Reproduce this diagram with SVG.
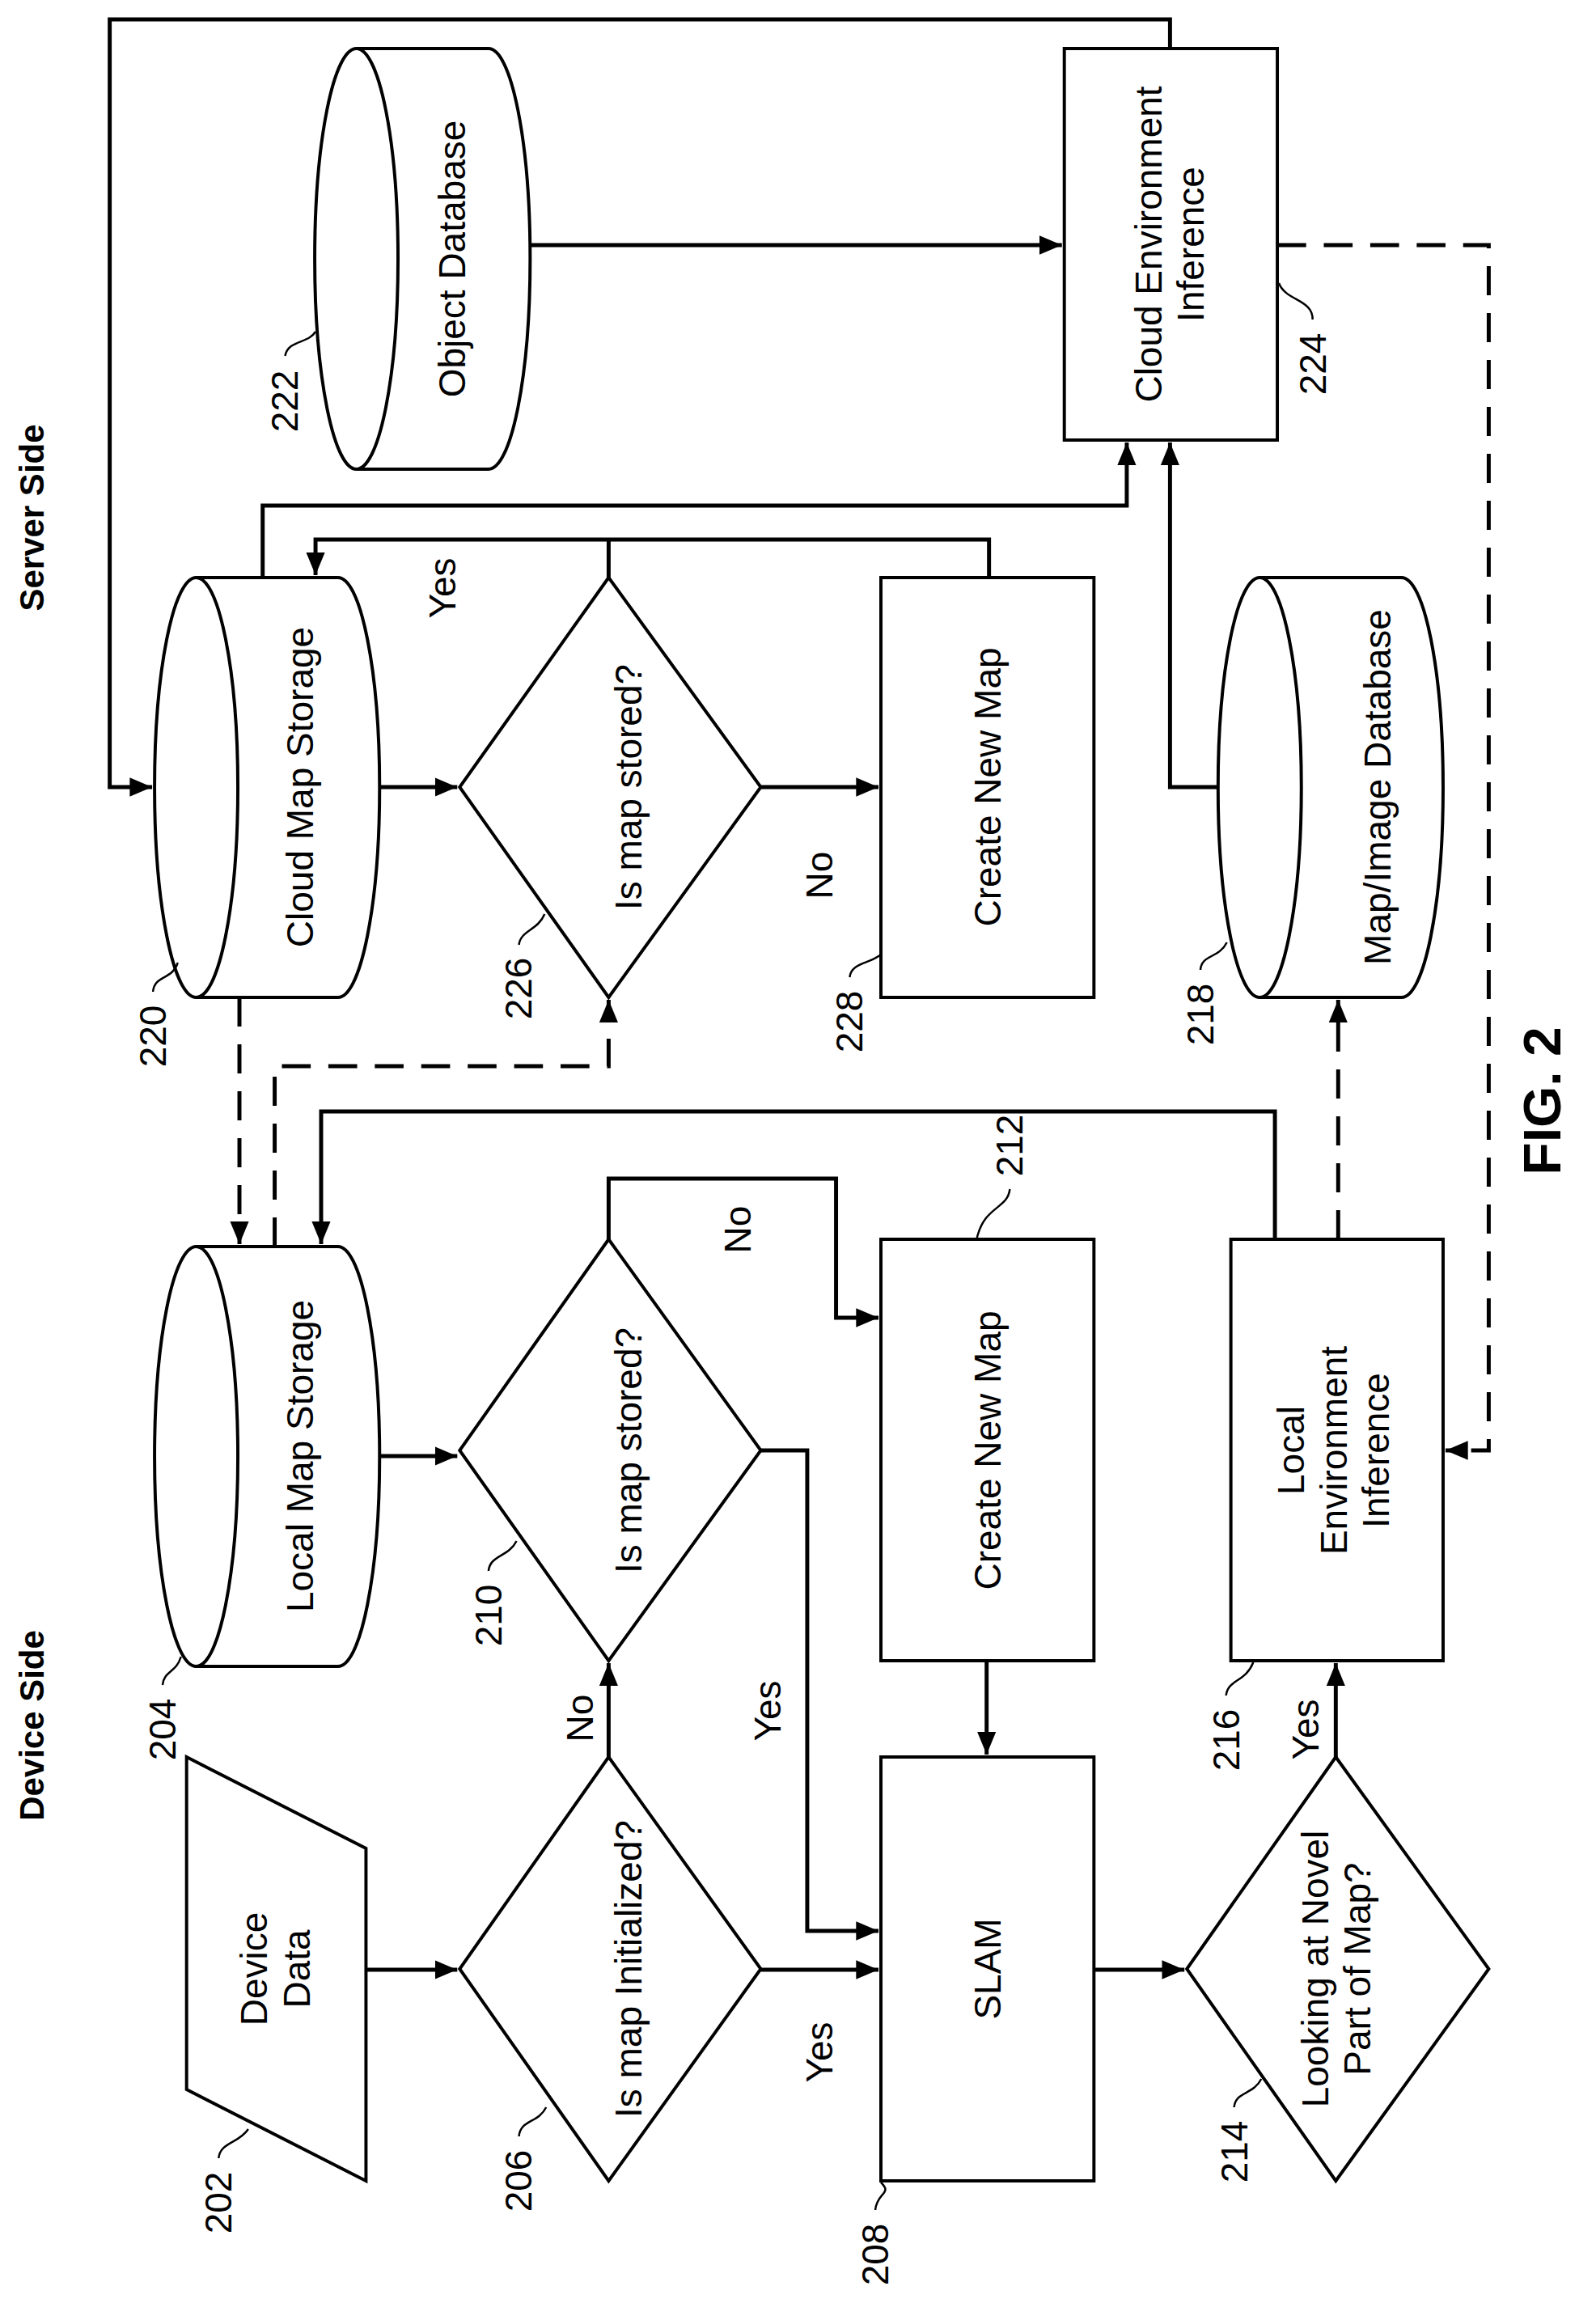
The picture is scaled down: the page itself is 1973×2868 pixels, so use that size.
<svg xmlns="http://www.w3.org/2000/svg" width="1973" height="2868" viewBox="0 0 1973 2868">
<style>
.s{fill:#fff;stroke:#000;stroke-width:4}
.c{fill:none;stroke:#000;stroke-width:5}
.d{fill:none;stroke:#000;stroke-width:5;stroke-dasharray:36 22}
.l{fill:none;stroke:#000;stroke-width:2.5}
text{font-family:"Liberation Sans",Arial,sans-serif;font-size:46px;text-anchor:middle;fill:#000}
.b{font-weight:bold;font-size:42px}
.f{font-weight:bold;font-size:66px}
</style>
<defs>
<marker id="m" viewBox="-12 -6 12 12" refX="0" refY="0" markerWidth="28" markerHeight="28" orient="auto" markerUnits="userSpaceOnUse"><path d="M-12,-5 L0,0 L-12,5 z" fill="#000"/></marker>
</defs>
<g transform="scale(0.99,1)">
<text class="b" transform="translate(40,640) rotate(-90)" dy="0.35em">Server Side</text>
<text class="b" transform="translate(40,2133) rotate(-90)" dy="0.35em">Device Side</text>
<text class="f" transform="translate(1925,1361) rotate(-90)" dy="0.35em">FIG. 2</text>
<g id="connectors">
<path class="c" d="M1461,60 V24 H137 V973 H190" marker-end="url(#m)"/>
<path class="c" d="M620,303 H1326" marker-end="url(#m)"/>
<path class="d" d="M1595,303 H1859 V1793 H1805" marker-end="url(#m)"/>
<path class="c" d="M474,973 H571" marker-end="url(#m)"/>
<path class="c" d="M950,973 H1097" marker-end="url(#m)"/>
<path class="c" d="M328,714 V625 H1407 V547" marker-end="url(#m)"/>
<path class="c" d="M1235,714 V667 H394 V711" marker-end="url(#m)"/>
<path class="c" d="M760,714 V667"/>
<path class="c" d="M1521,973 H1461 V547" marker-end="url(#m)"/>
<path class="d" d="M299,1233 V1538" marker-end="url(#m)"/>
<path class="d" d="M343,1541 V1318 H760 V1236" marker-end="url(#m)"/>
<path class="c" d="M1592,1532 V1374 H401 V1538" marker-end="url(#m)"/>
<path class="d" d="M1671,1532 V1236" marker-end="url(#m)"/>
<path class="c" d="M474,1800 H571" marker-end="url(#m)"/>
<path class="c" d="M760,1532 V1457 H1044 V1629 H1097" marker-end="url(#m)"/>
<path class="c" d="M950,1793 H1008 V2387 H1097" marker-end="url(#m)"/>
<path class="c" d="M1232,2053 V2169" marker-end="url(#m)"/>
<path class="c" d="M457,2435 H571" marker-end="url(#m)"/>
<path class="c" d="M760,2172 V2056" marker-end="url(#m)"/>
<path class="c" d="M950,2435 H1097" marker-end="url(#m)"/>
<path class="c" d="M1366,2435 H1479" marker-end="url(#m)"/>
<path class="c" d="M1668,2172 V2056" marker-end="url(#m)"/>
</g>
<g id="n222">
<path class="s" d="M445,60 H610 A52,260 0 0 1 610,580 H445"/>
<ellipse class="s" cx="445" cy="320" rx="52" ry="260"/>
<text transform="translate(565,320) rotate(-90)" dy="0.35em">Object Database</text>
<text transform="translate(356,496) rotate(-90)" dy="0.35em">222</text>
<path class="l" d="M356,440 C360,420 385,425 394,410"/>
</g>
<g id="n224">
<rect class="s" x="1329" y="60" width="266" height="484"/>
<text transform="translate(1462,302) rotate(-90)"><tspan x="0" dy="-0.25em">Cloud Environment</tspan><tspan x="0" dy="1.15em">Inference</tspan></text>
<text transform="translate(1639,450) rotate(-90)" dy="0.35em">224</text>
<path class="l" d="M1639,395 C1640,370 1605,372 1597,350"/>
</g>
<g id="n220">
<path class="s" d="M245,714 H422 A52,259.5 0 0 1 422,1233 H245"/>
<ellipse class="s" cx="245" cy="973.5" rx="52" ry="259.5"/>
<text transform="translate(375,973) rotate(-90)" dy="0.35em">Cloud Map Storage</text>
<text transform="translate(191,1281) rotate(-90)" dy="0.35em">220</text>
<path class="l" d="M191,1226 C193,1205 215,1212 222,1190"/>
</g>
<g id="n226">
<polygon class="s" points="760,714 950,973 760,1233 574,973"/>
<text transform="translate(785,973) rotate(-90)" dy="0.35em">Is map stored?</text>
<text transform="translate(648,1222) rotate(-90)" dy="0.35em">226</text>
<path class="l" d="M648,1168 C650,1150 672,1150 680,1130"/>
</g>
<g id="n228">
<rect class="s" x="1100" y="714" width="266" height="519"/>
<text transform="translate(1233,973) rotate(-90)" dy="0.35em">Create New Map</text>
<text transform="translate(1061,1263) rotate(-90)" dy="0.35em">228</text>
<path class="l" d="M1061,1208 C1063,1190 1085,1192 1100,1180"/>
</g>
<g id="n218">
<path class="s" d="M1573,714 H1750 A52,259.5 0 0 1 1750,1233 H1573"/>
<ellipse class="s" cx="1573" cy="973.5" rx="52" ry="259.5"/>
<text transform="translate(1720,973) rotate(-90)" dy="0.35em">Map/Image Database</text>
<text transform="translate(1499,1254) rotate(-90)" dy="0.35em">218</text>
<path class="l" d="M1499,1199 C1500,1180 1522,1185 1532,1165"/>
</g>
<text transform="translate(553,727) rotate(-90)" dy="0.35em">Yes</text>
<text transform="translate(1023,1082) rotate(-90)" dy="0.35em">No</text>
<g id="n204">
<path class="s" d="M245,1541 H422 A52,259.5 0 0 1 422,2060 H245"/>
<ellipse class="s" cx="245" cy="1800.5" rx="52" ry="259.5"/>
<text transform="translate(375,1800) rotate(-90)" dy="0.35em">Local Map Storage</text>
<text transform="translate(203,2138) rotate(-90)" dy="0.35em">204</text>
<path class="l" d="M203,2083 C205,2065 220,2068 226,2048"/>
</g>
<g id="n210">
<polygon class="s" points="760,1532 950,1793 760,2053 574,1793"/>
<text transform="translate(785,1793) rotate(-90)" dy="0.35em">Is map stored?</text>
<text transform="translate(610,1997) rotate(-90)" dy="0.35em">210</text>
<path class="l" d="M610,1942 C612,1922 635,1925 645,1905"/>
</g>
<g id="n212">
<rect class="s" x="1100" y="1532" width="266" height="521"/>
<text transform="translate(1233,1793) rotate(-90)" dy="0.35em">Create New Map</text>
<text transform="translate(1261,1416) rotate(-90)" dy="0.35em">212</text>
<path class="l" d="M1261,1470 C1258,1495 1230,1490 1220,1530"/>
</g>
<g id="n216">
<rect class="s" x="1537" y="1532" width="265" height="521"/>
<text transform="translate(1670,1793) rotate(-90)"><tspan x="0" dy="-0.9em">Local</tspan><tspan x="0" dy="1.15em">Environment</tspan><tspan x="0" dy="1.15em">Inference</tspan></text>
<text transform="translate(1531,2151) rotate(-90)" dy="0.35em">216</text>
<path class="l" d="M1531,2096 C1533,2076 1555,2080 1565,2055"/>
</g>
<g id="n202">
<polygon class="s" points="233,2172 457,2285 457,2696 233,2583"/>
<text transform="translate(345,2434) rotate(-90)"><tspan x="0" dy="-0.25em">Device</tspan><tspan x="0" dy="1.15em">Data</tspan></text>
<text transform="translate(273,2723) rotate(-90)" dy="0.35em">202</text>
<path class="l" d="M273,2668 C275,2648 298,2650 310,2632"/>
</g>
<g id="n206">
<polygon class="s" points="760,2172 950,2434 760,2696 574,2434"/>
<text transform="translate(785,2434) rotate(-90)" dy="0.35em">Is map Initialized?</text>
<text transform="translate(648,2696) rotate(-90)" dy="0.35em">206</text>
<path class="l" d="M648,2641 C650,2620 672,2625 682,2605"/>
</g>
<g id="n208">
<rect class="s" x="1100" y="2172" width="266" height="524"/>
<text transform="translate(1233,2434) rotate(-90)" dy="0.35em">SLAM</text>
<text transform="translate(1093,2787) rotate(-90)" dy="0.35em">208</text>
<path class="l" d="M1093,2732 C1095,2710 1115,2712 1100,2698"/>
</g>
<g id="n214">
<polygon class="s" points="1668,2172 1859,2434 1668,2696 1482,2434"/>
<text transform="translate(1670,2434) rotate(-90)"><tspan x="0" dy="-0.25em">Looking at Novel</tspan><tspan x="0" dy="1.15em">Part of Map?</tspan></text>
<text transform="translate(1541,2660) rotate(-90)" dy="0.35em">214</text>
<path class="l" d="M1541,2605 C1543,2585 1565,2590 1575,2570"/>
</g>
<text transform="translate(724,2124) rotate(-90)" dy="0.35em">No</text>
<text transform="translate(1023,2537) rotate(-90)" dy="0.35em">Yes</text>
<text transform="translate(959,2115) rotate(-90)" dy="0.35em">Yes</text>
<text transform="translate(921,1520) rotate(-90)" dy="0.35em">No</text>
<text transform="translate(1630,2138) rotate(-90)" dy="0.35em">Yes</text>
</g>
</svg>
